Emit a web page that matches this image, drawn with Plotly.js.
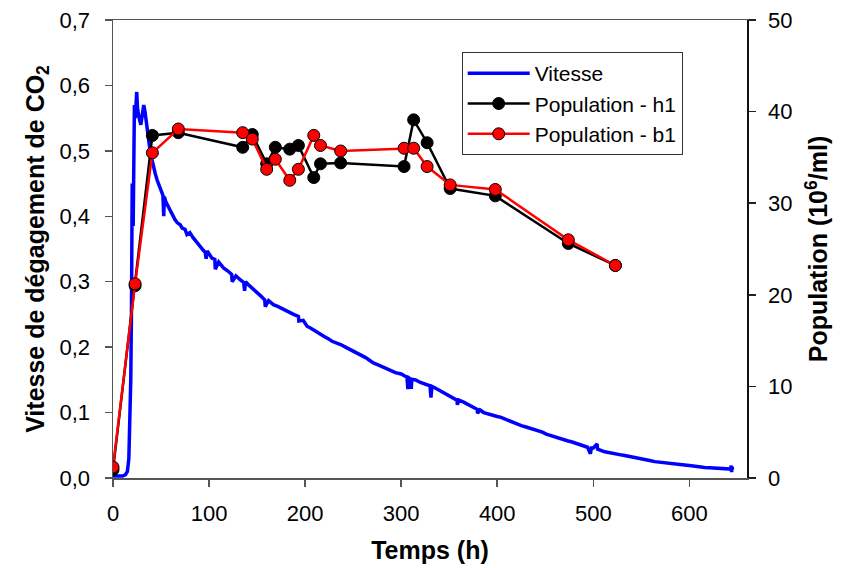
<!DOCTYPE html>
<html>
<head>
<meta charset="utf-8">
<script src="https://cdn.plot.ly/plotly-3.0.1.min.js"></script>
<style>html,body{margin:0;padding:0;background:#fff;}#chart{width:841px;height:568px;}</style>
</head>
<body>
<div id="chart"></div>
<script>
// Vitesse de dégagement de CO2 (left axis)
const vitesseTemps = [0,5,10,13,15,16.5,17.5,18.5,19.2,19.6,20,20.5,21,21.5,22.3,23.2,24,24.7,25.5,26.3,27.5,29,30.5,32,33.3,34.5,36,38,40,42,44,46,48,50,52,52.8,53.5,55,57.5,60,62,64.5,67,70,72,75,77,80,83,85,88,91,94,96,97,98,100,103,106,106.5,110,115,120,123.6,124,128,132,136,137,138,142,146,150,154,158,158.5,162,167,172,178,184,188,193,193.5,198,202,206,210,215,219,224,228,233,237,242,246,250,254,258,263,267,271,276,280,285,289,294,300,303,306,307,308,310,310.5,311,315,320,325,330,331,332,335,340,345,351,355,358,358.5,360,365,369,374,379,379.5,382,386,390,395,400,404,408,412,417,421,425,430,434,438.5,443,447,451,456,460,465,469,473,478,482,486,490,494,497,498,500,503.9,504.5,508,512,516,521,525.5,530,534,538,543,547,551,556,560,564,569,573,578,582,586,590,595,600,604,608,612,616,621,625,630,634,637,640,643,643.5,644,644.5,645];
const vitesse = [0.003,0.003,0.003,0.005,0.010,0.030,0.080,0.150,0.250,0.380,0.450,0.430,0.385,0.450,0.570,0.550,0.575,0.590,0.565,0.555,0.548,0.540,0.555,0.570,0.560,0.545,0.530,0.507,0.490,0.474,0.465,0.455,0.448,0.440,0.432,0.400,0.430,0.422,0.415,0.408,0.400,0.395,0.390,0.387,0.382,0.380,0.372,0.375,0.368,0.364,0.358,0.352,0.348,0.345,0.335,0.347,0.342,0.336,0.334,0.319,0.330,0.321,0.316,0.311,0.300,0.309,0.3035,0.299,0.286,0.300,0.294,0.289,0.283,0.278,0.272,0.262,0.271,0.265,0.262,0.257,0.253,0.250,0.247,0.240,0.241,0.232,0.229,0.225,0.220,0.217,0.213,0.209,0.206,0.204,0.200,0.197,0.195,0.192,0.188,0.184,0.180,0.176,0.173,0.170,0.167,0.164,0.161,0.159,0.157,0.154,0.136,0.153,0.151,0.136,0.151,0.150,0.146,0.144,0.141,0.123,0.140,0.138,0.134,0.130,0.1255,0.122,0.119,0.112,0.119,0.116,0.113,0.109,0.105,0.099,0.104,0.100,0.098,0.096,0.094,0.0926,0.090,0.088,0.085,0.0824,0.080,0.078,0.076,0.0747,0.072,0.070,0.067,0.0645,0.062,0.060,0.058,0.0569,0.055,0.053,0.051,0.0493,0.047,0.037,0.046,0.046,0.052,0.044,0.0416,0.040,0.039,0.038,0.0366,0.035,0.034,0.033,0.0315,0.030,0.029,0.028,0.0264,0.025,0.024,0.023,0.0224,0.022,0.021,0.020,0.0198,0.019,0.018,0.017,0.0163,0.016,0.0155,0.015,0.0148,0.0145,0.014,0.014,0.0137,0.019,0.009,0.017,0.013];

// Population (right axis)
const popTemps = [0,23,41,68,135,145,160,169,184,193,209,216,237,303,313,327,351,398,474,523];
const popH1 = [0.9,21.0,37.4,37.7,36.1,37.5,34.3,36.1,35.9,36.3,32.8,34.3,34.4,34.0,39.1,36.6,31.6,30.8,25.6,23.2];
const popB1 = [1.2,21.2,35.5,38.1,37.7,37.0,33.7,34.8,32.5,33.7,37.4,36.3,35.7,36.0,36.0,34.0,32.0,31.5,26.0,23.2];

const xTicks = [0,100,200,300,400,500,600];

const FONT = 'Liberation Sans, Arial, sans-serif';

const traces = [
  {x: vitesseTemps, y: vitesse, type: 'scatter', mode: 'lines', name: 'Vitesse',
   line: {color: '#0000ff', width: 3.5}, yaxis: 'y'},
  {x: popTemps, y: popH1, type: 'scatter', mode: 'lines+markers', name: 'Population - h1',
   line: {color: '#000000', width: 2.5},
   marker: {color: '#000000', size: 12, line: {color: '#000000', width: 1}}, yaxis: 'y2'},
  {x: popTemps, y: popB1, type: 'scatter', mode: 'lines+markers', name: 'Population - b1',
   line: {color: '#ff0000', width: 2.5},
   marker: {color: '#ff0000', size: 12, line: {color: '#000000', width: 1}}, yaxis: 'y2'}
];

const layout = {
  width: 841, height: 568,
  margin: {l: 113, r: 94, t: 20, b: 90, pad: 0},
  paper_bgcolor: '#ffffff', plot_bgcolor: '#ffffff',
  separators: ', ',
  font: {family: FONT, size: 22, color: '#000'},
  showlegend: true,
  legend: {x: 0.55, y: 0.93, xanchor: 'left', yanchor: 'top',
    bgcolor: '#ffffff', bordercolor: '#333333', borderwidth: 1,
    font: {family: FONT, size: 21, color: '#000'}, itemwidth: 62, tracegroupgap: 0},
  xaxis: {range: [0, 660], tickvals: xTicks, ticks: 'outside', ticklen: 7, tickwidth: 1.5,
    tickcolor: '#555', showline: true, linecolor: '#555', linewidth: 1.5, mirror: true,
    showgrid: false, zeroline: false, ticklabelstandoff: 8,
    tickfont: {family: FONT, size: 22},
    title: {text: '<b>Temps (h)</b>', font: {family: FONT, size: 25}, standoff: 16}},
  yaxis: {range: [0, 0.7], dtick: 0.1, tick0: 0, tickformat: '.1f', ticks: 'outside', ticklen: 7,
    tickwidth: 1.5, tickcolor: '#555', showline: true, linecolor: '#555', linewidth: 1.5,
    showgrid: false, zeroline: false, ticklabelstandoff: 10,
    tickfont: {family: FONT, size: 22},
    title: {text: '<b>Vitesse de dégagement de CO<sub>2</sub></b>', font: {family: FONT, size: 25}, standoff: 8}},
  yaxis2: {range: [0, 50], dtick: 10, tick0: 0, overlaying: 'y', side: 'right', ticks: 'outside',
    ticklen: 7, tickwidth: 1.5, tickcolor: '#222', showline: true, linecolor: '#111', linewidth: 1.5,
    showgrid: false, zeroline: false, ticklabelstandoff: 8,
    tickfont: {family: FONT, size: 22},
    title: {text: '<b>Population (10<sup>6</sup>/ml)</b>', font: {family: FONT, size: 25}, standoff: 18}}
};

Plotly.newPlot('chart', traces, layout, {displayModeBar: false, staticPlot: true});
</script>
</body>
</html>
